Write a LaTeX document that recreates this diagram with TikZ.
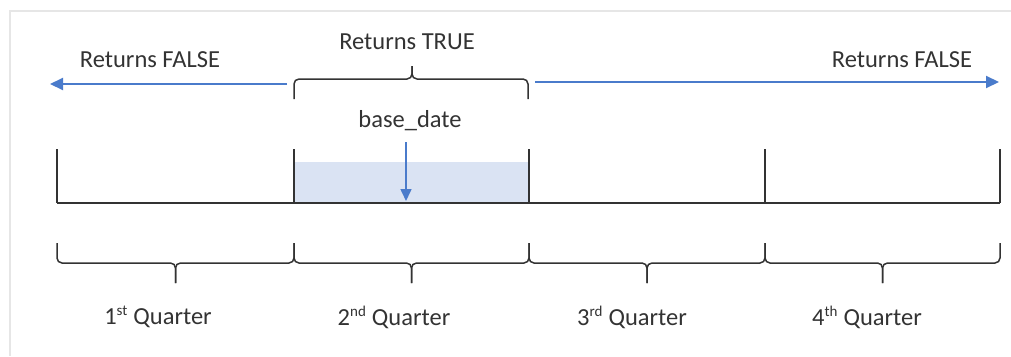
\documentclass[tikz,border=0pt]{standalone}
\usepackage{fontspec}
\setmainfont{Carlito}
\usetikzlibrary{arrows.meta}
\definecolor{framegray}{HTML}{E6E6E6}
\definecolor{ink}{HTML}{333333}
\definecolor{blueline}{HTML}{4A7BCB}
\definecolor{shadeblue}{HTML}{DAE3F3}
\newcommand{\sups}[1]{\textsuperscript{\fontsize{15}{15}\selectfont #1}}
\tikzset{
  lbl/.style={inner sep=0pt, text=ink, font=\fontsize{24.5}{28}\selectfont},
  axis/.style={draw=ink, line width=1.5pt},
  bracepath/.style={draw=ink, line width=1.5pt, rounded corners=5pt},
  bluearrow/.style={draw=blueline, line width=2pt, -{Triangle[length=13pt,width=12pt]}},
}
\begin{document}
\begin{tikzpicture}[x=1pt,y=-1pt]
\useasboundingbox (0,0) rectangle (1011,356);
\fill[white] (0,0) rectangle (1011,356);
% light frame
\draw[framegray, line width=1.2pt] (10,356) -- (10,11) -- (1011,11);

% shaded quarter
\fill[shadeblue] (294,162) rectangle (529,203);

% timeline
\coordinate (t0) at (57,203);
\coordinate (t4) at (1000,203);
\draw[axis] (t0) -- (t4);
\foreach \x in {57,294,529,765,1000}
  \draw[axis] (\x,149) -- (\x,203);

% top brace
\draw[bracepath] (294,99) -- (294,79) -- (412,79) -- (412,66);
\draw[bracepath] (412,66) -- (412,79) -- (528,79) -- (528,99);
\node[lbl] (true) at (407,42) {Returns TRUE};

% blue arrows
\coordinate (la) at (287,84);
\coordinate (lb) at (50,84);
\coordinate (ra) at (535,82);
\coordinate (rb) at (999,82);
\draw[bluearrow] (la) -- (lb);
\draw[bluearrow] (ra) -- (rb);
\node[lbl] (falseL) at (150,60) {Returns FALSE};
\node[lbl] (falseR) at (902,60) {Returns FALSE};

% base date
\node[lbl] (base) at (410,121) {base\_date};
\coordinate (bd) at (406,201);
\draw[draw=blueline, line width=1.6pt, -{Triangle[length=12pt,width=11pt]}] (406,142) -- (bd);

% bottom braces
\foreach \a/\b in {57/294,294/529,529/765,765/1000}{
  \pgfmathsetmacro{\m}{(\a+\b)/2}
  \draw[bracepath] (\a,243) -- (\a,263) -- (\m,263) -- (\m,283);
  \draw[bracepath] (\m,283) -- (\m,263) -- (\b,263) -- (\b,243);
}
\node[lbl] (q1) at (158,317) {1\sups{st} Quarter};
\node[lbl] (q2) at (394,317) {2\sups{nd} Quarter};
\node[lbl] (q3) at (632,317) {3\sups{rd} Quarter};
\node[lbl] (q4) at (867,317) {4\sups{th} Quarter};
\end{tikzpicture}
\end{document}
